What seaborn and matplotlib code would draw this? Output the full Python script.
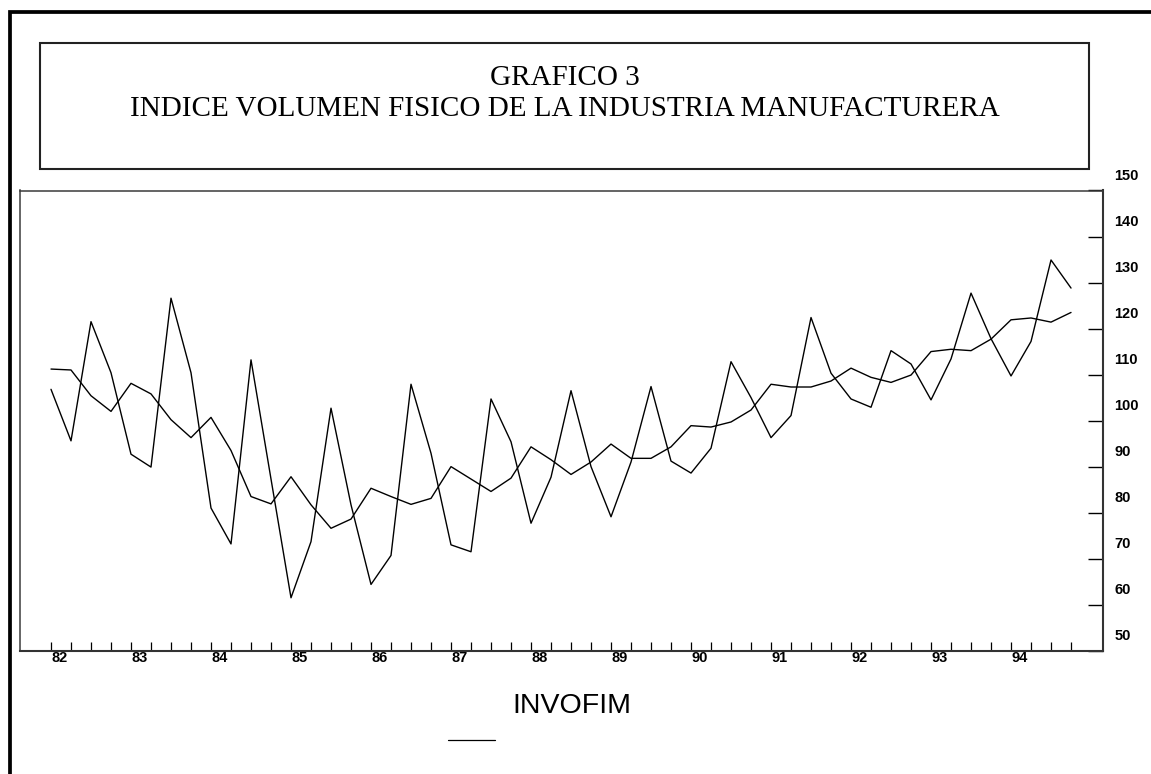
import matplotlib
matplotlib.use("Agg")

import pandas as pd
import seaborn as sns
import matplotlib.pyplot as plt
from matplotlib.lines import Line2D
from matplotlib.patches import Rectangle
from matplotlib.transforms import ScaledTranslation

# years on the axis (82..94) and one point per quarter
years = list(range(82, 95))
year_labels = [str(y) for y in years]
quarters = [y + q / 4 for y in years for q in range(4)]

# serie original (fuerte estacionalidad)
invofim = [106.8, 95.6, 121.5, 110.4, 92.7, 89.9, 126.6, 110.4,
           81.0, 73.2, 113.2, 87.3, 61.5, 73.7, 102.7, 81.7,
           64.4, 70.7, 107.9, 92.9, 73.0, 71.5, 104.7, 95.4,
           77.7, 87.7, 106.5, 90.0, 79.1, 91.0, 107.4, 91.2,
           88.6, 94.0, 112.8, 105.0, 96.3, 101.1, 122.4, 110.3,
           104.7, 102.9, 115.2, 112.3, 104.5, 113.4, 127.7, 117.8,
           109.7, 117.2, 134.9, 128.8]

# serie suavizada
invofim_sa = [111.2, 111.0, 105.4, 102.0, 108.1, 105.8, 100.2, 96.3,
              100.7, 93.5, 83.5, 81.9, 87.8, 81.7, 76.6, 78.6,
              85.3, 83.5, 81.8, 83.1, 90.0, 87.3, 84.6, 87.5,
              94.3, 91.5, 88.3, 91.0, 94.9, 91.8, 91.8, 94.3,
              98.9, 98.6, 99.7, 102.3, 107.9, 107.3, 107.3, 108.6,
              111.4, 109.4, 108.3, 109.9, 115.0, 115.5, 115.2, 117.7,
              121.9, 122.3, 121.4, 123.5]

y_ticks = list(range(50, 151, 10))

df = pd.DataFrame({
    "periodo": quarters * 2,
    "valor": invofim + invofim_sa,
    "serie": ["INVOFIM"] * len(invofim) + ["SA"] * len(invofim_sa),
})

sns.set_style("white")
plt.rcParams["font.family"] = ["Liberation Sans", "DejaVu Sans"]
plt.rcParams["text.color"] = "black"
plt.rcParams["xtick.color"] = "black"
plt.rcParams["ytick.color"] = "black"

W, H = 1151, 774
fig = plt.figure(figsize=(W / 100, H / 100), dpi=100)
ax = fig.add_axes([20 / W, 1 - 650.7 / H, (1102.7 - 20) / W, (650.7 - 190.5) / H])

sns.lineplot(data=df, x="periodo", y="valor", hue="serie",
             palette=["black", "black"], linewidth=1.0,
             estimator=None, legend=False, ax=ax)

ax.set_xlim(81.6125, 95.146)
ax.set_ylim(50, 150)
ax.set_xlabel("")
ax.set_ylabel("")

# right-hand y axis, labels sit a bit above their ticks
ax.yaxis.tick_right()
ax.set_yticks(y_ticks)
ax.set_yticklabels([str(v) for v in y_ticks])
ax.tick_params(axis="y", which="both", left=False, right=True, direction="in",
               length=10.8, width=1.0, pad=8.5, labelsize=10.5)
for lab in ax.get_yticklabels():
    lab.set_fontweight("bold")
    lab.set_transform(lab.get_transform() + ScaledTranslation(0, 16 / 100, fig.dpi_scale_trans))

ax.set_xticks(years)
ax.set_xticklabels(year_labels, ha="left", fontweight="bold", fontsize=10.5)
ax.set_xticks(quarters, minor=True)
ax.tick_params(axis="x", which="both", bottom=True, top=False, direction="in",
               length=6.5, width=0.9, pad=0.5)

for side in ["left", "top"]:
    ax.spines[side].set_linewidth(1.1)
    ax.spines[side].set_color("#3a3a3a")
for side in ["right", "bottom"]:
    ax.spines[side].set_linewidth(1.5)
    ax.spines[side].set_color("#333333")

# title box
fig.add_artist(Rectangle((40 / W, 1 - 169 / H), (1089 - 40) / W, (169 - 43) / H,
                         transform=fig.transFigure, fill=False, lw=1.5, ec="#222222"))
fig.text(564.5 / W, 1 - 84.7 / H, "GRAFICO 3", ha="center", va="baseline",
         family=["Liberation Serif"], fontsize=21, color="black")
fig.text(564.5 / W, 1 - 115.7 / H, "INDICE VOLUMEN FISICO DE LA INDUSTRIA MANUFACTURERA",
         ha="center", va="baseline", family=["Liberation Serif"], fontsize=21, color="black")

# page frame (left and top edges)
fig.add_artist(Line2D([10 / W, 10 / W, 1.0], [0.0, 1 - 12 / H, 1 - 12 / H],
                      transform=fig.transFigure, lw=2.7, color="black",
                      solid_joinstyle="miter"))

# legend under the chart
fig.text(571.5 / W, 1 - 713.3 / H, "INVOFIM", ha="center", va="baseline",
         fontsize=20.5, color="black")
fig.add_artist(Line2D([448 / W, 495 / W], [1 - 739.7 / H, 1 - 739.7 / H],
                      transform=fig.transFigure, lw=0.9, color="black"))

fig.savefig("out.png", dpi=100)
